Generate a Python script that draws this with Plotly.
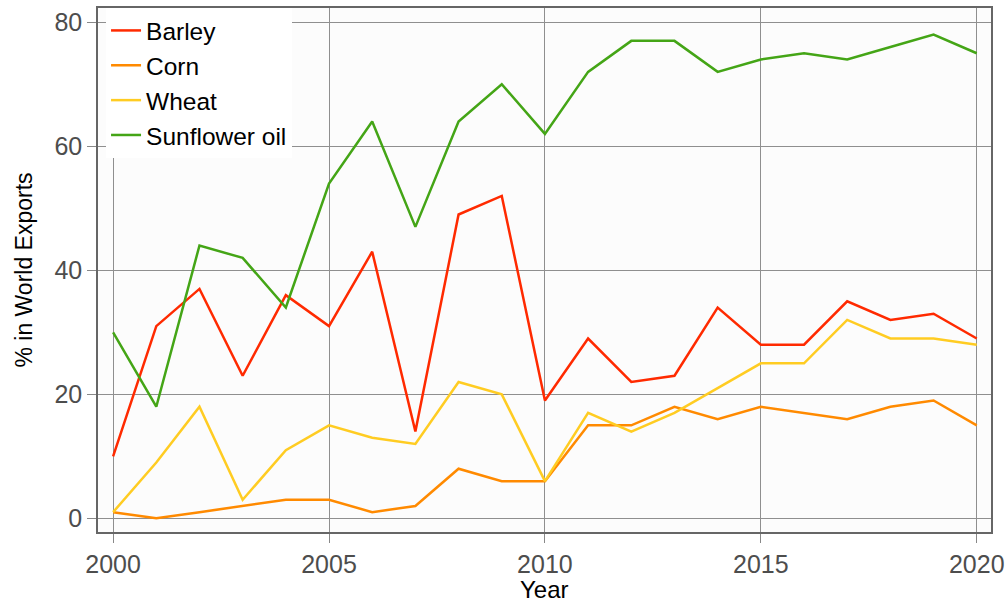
import plotly.graph_objects as go

years = list(range(2000, 2021))
barley = [10, 31, 37, 23, 36, 31, 43, 14, 49, 52, 19, 29, 22, 23, 34, 28, 28, 35, 32, 33, 29]
corn = [1, 0, 1, 2, 3, 3, 1, 2, 8, 6, 6, 15, 15, 18, 16, 18, 17, 16, 18, 19, 15]
wheat = [1, 9, 18, 3, 11, 15, 13, 12, 22, 20, 6, 17, 14, 17, 21, 25, 25, 32, 29, 29, 28]
sunflower = [30, 18, 44, 42, 34, 54, 64, 47, 64, 70, 62, 72, 77, 77, 72, 74, 75, 74, 76, 78, 75]

series = [
    ("Barley", barley, "#ff2a00"),
    ("Corn", corn, "#ff8a00"),
    ("Wheat", wheat, "#ffcc22"),
    ("Sunflower oil", sunflower, "#44a516"),
]

fig = go.Figure()
for name, vals, color in series:
    fig.add_trace(go.Scatter(x=years, y=vals, mode="lines", name=name,
                             line=dict(color=color, width=2.5)))

axis_common = dict(
    showgrid=True, gridcolor="#8f8f8f", gridwidth=1,
    showline=True, linecolor="#666666", linewidth=1.5, mirror=True,
    ticks="outside", ticklen=9, tickcolor="#888888", tickwidth=1,
    tickfont=dict(size=25, color="#4d4d4d"),
    zeroline=False, automargin=False,
)

fig.update_layout(
    width=1008, height=601,
    margin=dict(l=98, r=17, t=8, b=69),
    paper_bgcolor="white",
    plot_bgcolor="#fcfcfc",
    font=dict(family="Liberation Sans, Arial, sans-serif", color="black"),
    xaxis=dict(axis_common, range=[1999.65, 2020.33], tickvals=[2000, 2005, 2010, 2015, 2020]),
    yaxis=dict(axis_common, range=[-2.2, 82.3], tickvals=[0, 20, 40, 60, 80],
               title=dict(text="% in World Exports", font=dict(size=23))),
    legend=dict(x=0.009, y=1, xanchor="left", yanchor="top", bgcolor="white",
                font=dict(size=24.5, color="black"), borderwidth=0),
    showlegend=True,
)

# x title as an annotation so it sits just below the tick labels like the original
fig.add_annotation(text="Year", xref="paper", yref="paper", x=0.5, y=0,
                   xanchor="center", yanchor="top", yshift=-42, showarrow=False,
                   font=dict(size=24, color="black"))

# drop the page's default body margin so the 1008x601 figure fills the window
fig.write_html("out.html", config={"displayModeBar": False},
               post_script="document.body.style.margin='0';document.body.style.overflow='hidden';")
